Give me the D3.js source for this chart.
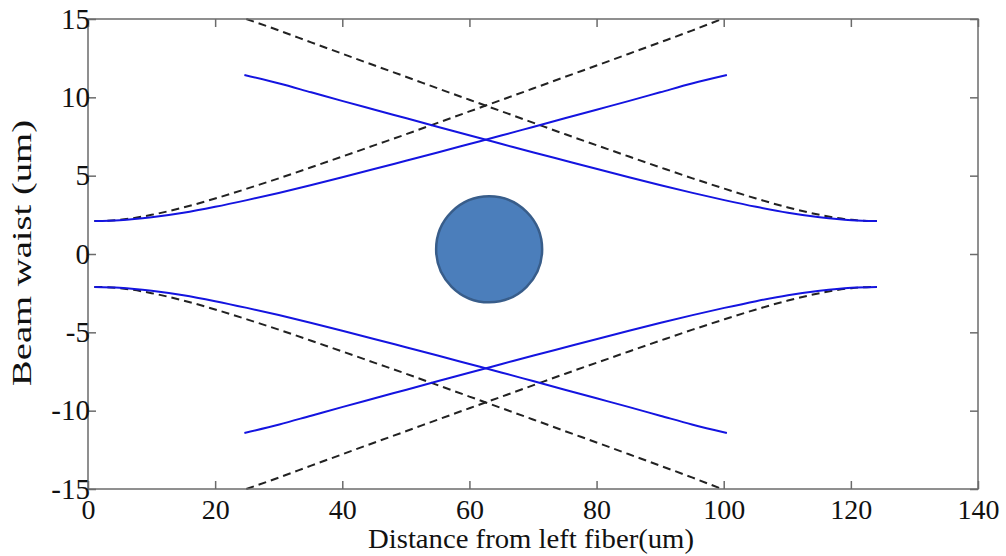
<!DOCTYPE html>
<html>
<head>
<meta charset="utf-8">
<script src="https://cdn.jsdelivr.net/npm/d3@7"></script>
<style>
  body { margin: 0; background: #fff; }
  svg text { font-family: "Liberation Serif", "DejaVu Serif", "Times New Roman", serif !important; fill: #111; }
</style>
</head>
<body>
<div id="chart"></div>
<script>
var width = 1006,
  height = 556;

var margin = { left: 88, right: 28, top: 19, bottom: 67 };

// axis ticks
var xTicks = [0, 20, 40, 60, 80, 100, 120, 140];
var yTicks = [-15, -10, -5, 0, 5, 10, 15];

// positions along the optical axis (um), left fiber and right fiber
var xLeft = [1, 5, 10, 15, 20, 25, 30, 35, 40, 45, 50, 55, 60, 65, 70, 75, 80, 85, 90, 95, 100.5];
var xRight = [124.1, 120.1, 115.1, 110.1, 105.1, 100.1, 95.1, 90.1, 85.1, 80.1, 75.1, 70.1, 65.1, 60.1, 55.1, 50.1, 45.1, 40.1, 35.1, 30.1, 24.6];
// beam waist (um), solid blue curves
var waistBlue = [2.10, 2.15, 2.34, 2.63, 3.01, 3.44, 3.90, 4.39, 4.90, 5.42, 5.95, 6.48, 7.02, 7.56, 8.11, 8.66, 9.21, 9.76, 10.32, 10.88, 11.42];

// dashed black curves
var xLeftDash = [1, 5, 10, 15, 20, 25, 30, 35, 40, 45, 50, 55, 60, 65, 70, 75, 80, 85, 90, 95, 99.7];
var xRightDash = [124.1, 120.1, 115.1, 110.1, 105.1, 100.1, 95.1, 90.1, 85.1, 80.1, 75.1, 70.1, 65.1, 60.1, 55.1, 50.1, 45.1, 40.1, 35.1, 30.1, 24.9];
var waistDash = [2.10, 2.18, 2.50, 2.97, 3.54, 4.17, 4.83, 5.52, 6.22, 6.93, 7.64, 8.37, 9.10, 9.83, 10.56, 11.30, 12.03, 12.77, 13.51, 14.26, 15.0];

// the particle drawn in the middle
var particle = { x: 63.1, y: 0.3 };

var x = d3.scaleLinear().domain([0, 140]).range([margin.left, width - margin.right]);
var y = d3.scaleLinear().domain([-15, 15]).range([height - margin.bottom, margin.top]);

var svg = d3.select("#chart").append("svg")
  .attr("width", width)
  .attr("height", height);

var line = d3.line()
  .x(function(d) { return x(d[0]); })
  .y(function(d) { return y(d[1]); })
  .curve(d3.curveMonotoneX);

function pairs(xs, ws, sign) {
  return xs.map(function(v, i) { return [v, sign * ws[i]]; })
    .sort(function(a, b) { return a[0] - b[0]; });
}

var curves = [
  { d: pairs(xLeftDash, waistDash, 1), dash: true },
  { d: pairs(xLeftDash, waistDash, -1), dash: true },
  { d: pairs(xRightDash, waistDash, 1), dash: true },
  { d: pairs(xRightDash, waistDash, -1), dash: true },
  { d: pairs(xLeft, waistBlue, 1), dash: false },
  { d: pairs(xLeft, waistBlue, -1), dash: false },
  { d: pairs(xRight, waistBlue, 1), dash: false },
  { d: pairs(xRight, waistBlue, -1), dash: false }
];

svg.append("g").selectAll("path")
  .data(curves)
  .enter().append("path")
  .attr("d", function(c) { return line(c.d); })
  .attr("fill", "none")
  .attr("stroke", function(c) { return c.dash ? "#222" : "#1414e0"; })
  .attr("stroke-width", 2)
  .attr("stroke-dasharray", function(c) { return c.dash ? "8,5" : null; });

svg.append("circle")
  .attr("cx", x(particle.x))
  .attr("cy", y(particle.y))
  .attr("r", 53)
  .attr("fill", "#4b7ebb")
  .attr("stroke", "#385d8a")
  .attr("stroke-width", 2.5);

// box with inward ticks on all four sides
var axisColor = "#6b6b6b";
var tickLen = 8;
var plainNum = function(d) { return String(d); };

svg.append("rect")
  .attr("x", x(0)).attr("y", y(15))
  .attr("width", x(140) - x(0)).attr("height", y(-15) - y(15))
  .attr("fill", "none")
  .attr("stroke", axisColor)
  .attr("stroke-width", 1.5);

svg.append("g")
  .attr("transform", "translate(0," + y(-15) + ")")
  .call(d3.axisBottom(x).tickValues(xTicks).tickSize(-tickLen).tickPadding(tickLen + 2).tickFormat(plainNum))
  .call(function(g) {
    g.select(".domain").remove();
    g.selectAll("line").attr("stroke", axisColor).attr("stroke-width", 1.5);
    g.selectAll("text").attr("font-size", 28).attr("fill", "#111");
  });

svg.append("g")
  .attr("transform", "translate(0," + y(15) + ")")
  .call(d3.axisTop(x).tickValues(xTicks).tickSize(-tickLen).tickFormat(""))
  .call(function(g) {
    g.select(".domain").remove();
    g.selectAll("line").attr("stroke", axisColor).attr("stroke-width", 1.5);
  });

svg.append("g")
  .attr("transform", "translate(" + x(0) + ",0)")
  .call(d3.axisLeft(y).tickValues(yTicks).tickSize(-tickLen).tickPadding(6).tickFormat(plainNum))
  .call(function(g) {
    g.select(".domain").remove();
    g.selectAll("line").attr("stroke", axisColor).attr("stroke-width", 1.5);
    g.selectAll("text").attr("font-size", 29).attr("fill", "#111")
      .attr("dx", tickLen);
  });

svg.append("g")
  .attr("transform", "translate(" + x(140) + ",0)")
  .call(d3.axisRight(y).tickValues(yTicks).tickSize(-tickLen).tickFormat(""))
  .call(function(g) {
    g.select(".domain").remove();
    g.selectAll("line").attr("stroke", axisColor).attr("stroke-width", 1.5);
  });

// axis titles
svg.append("text")
  .attr("x", 531)
  .attr("y", 548)
  .attr("text-anchor", "middle")
  .attr("font-size", 27)
  .attr("textLength", 326)
  .attr("lengthAdjust", "spacingAndGlyphs")
  .text("Distance from left fiber(um)");

svg.append("text")
  .attr("transform", "translate(31,253) rotate(-90)")
  .attr("text-anchor", "middle")
  .attr("font-size", 28)
  .attr("textLength", 266)
  .attr("lengthAdjust", "spacingAndGlyphs")
  .text("Beam waist (um)");
</script>
</body>
</html>
